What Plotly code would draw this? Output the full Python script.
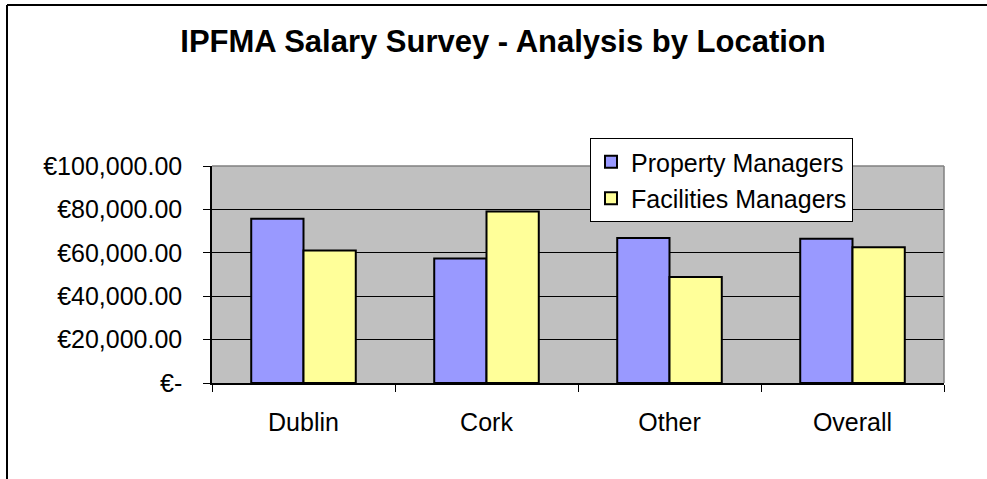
import plotly.graph_objects as go

# ---- data ----
categories = ["Dublin", "Cork", "Other", "Overall"]
property_managers = [75700, 57400, 66800, 66500]
facilities_managers = [61100, 79000, 48900, 62600]
y_tick_values = [0, 20000, 40000, 60000, 80000, 100000]
y_tick_labels = ["€-", "€20,000.00", "€40,000.00", "€60,000.00", "€80,000.00", "€100,000.00"]

W, H = 987, 479
ML, MR, MT, MB = 212, 43, 166, 96
PW, PH = W - ML - MR, H - MT - MB

FONT = "Liberation Sans, Arial, sans-serif"

fig = go.Figure()
fig.add_trace(go.Bar(
    x=categories, y=property_managers, name="Property Managers",
    marker=dict(color="#9999FF", line=dict(color="black", width=2)),
    legendgroup="a",
))
fig.add_trace(go.Bar(
    x=categories, y=facilities_managers, name="Facilities Managers",
    marker=dict(color="#FFFF99", line=dict(color="black", width=2)),
    legendgroup="b",
))

def px_x(px):
    return (px - ML) / PW

def px_y(py):
    return (H - MB - py) / PH

shapes = [
    # plot area top and right border (gray)
    dict(type="line", xref="paper", yref="paper", x0=0, x1=1, y0=1, y1=1,
         line=dict(color="#808080", width=1.5), layer="above"),
    dict(type="line", xref="paper", yref="paper", x0=1, x1=1, y0=0, y1=1,
         line=dict(color="#808080", width=1.5), layer="above"),
    # outer chart border (left and top)
    dict(type="line", xref="paper", yref="paper", x0=px_x(7), x1=px_x(7), y0=px_y(H + 5), y1=px_y(5),
         line=dict(color="black", width=2)),
    dict(type="line", xref="paper", yref="paper", x0=px_x(7), x1=px_x(W + 5), y0=px_y(5), y1=px_y(5),
         line=dict(color="black", width=2)),
]

fig.update_layout(
    width=W, height=H,
    margin=dict(l=ML, r=MR, t=MT, b=MB, pad=0),
    paper_bgcolor="white",
    plot_bgcolor="#C0C0C0",
    font=dict(family=FONT, size=25, color="black"),
    title=dict(
        text="<b>IPFMA Salary Survey - Analysis by Location</b>",
        x=503 / W, xanchor="center", xref="container",
        y=1 - 41 / H, yanchor="middle", yref="container",
        font=dict(family=FONT, size=31, color="black"),
    ),
    barmode="group",
    bargap=0.4286,
    bargroupgap=0,
    showlegend=True,
    legend=dict(
        x=px_x(590), xanchor="left",
        y=px_y(138), yanchor="top",
        bgcolor="white",
        bordercolor="black", borderwidth=1,
        font=dict(family=FONT, size=25, color="black"),
        traceorder="grouped",
        tracegroupgap=1,
        itemwidth=30,
    ),
    shapes=shapes,
    xaxis=dict(
        type="category",
        showgrid=False,
        showline=True, linecolor="black", linewidth=1.5,
        ticks="outside", tickson="boundaries", ticklen=7, tickcolor="black", tickwidth=1,
        ticklabelstandoff=16,
        tickfont=dict(family=FONT, size=25, color="black"),
        fixedrange=True,
    ),
    yaxis=dict(
        range=[0, 100000],
        tickmode="array", tickvals=y_tick_values, ticktext=y_tick_labels,
        showgrid=True, gridcolor="black", gridwidth=1,
        showline=True, linecolor="black", linewidth=1.5,
        ticks="outside", ticklen=7, tickcolor="black", tickwidth=1,
        ticklabelstandoff=16,
        zeroline=False,
        tickfont=dict(family=FONT, size=25, color="black"),
        fixedrange=True,
    ),
)

fig.write_html(
    "out.html",
    config={"displayModeBar": False},
    post_script="document.body.style.margin='0px';document.body.style.overflow='hidden';",
)
